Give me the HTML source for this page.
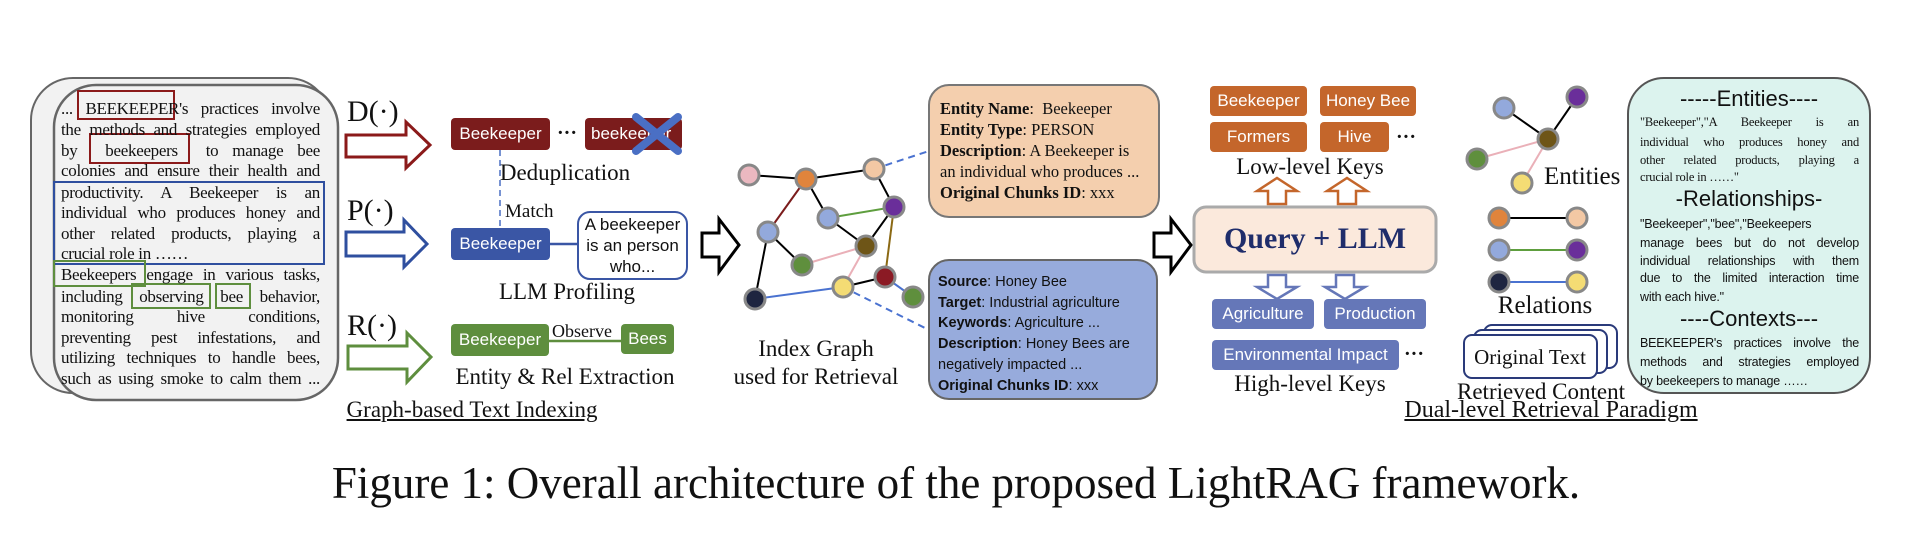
<!DOCTYPE html>
<html><head><meta charset="utf-8"><style>
body{margin:0;background:#fff;}
#c{position:relative;width:1920px;height:554px;overflow:hidden;background:#fff;font-family:"Liberation Serif",serif;color:#111;}
.a{position:absolute;white-space:nowrap;}
.dl{position:absolute;left:61px;width:259px;font-size:17px;line-height:21px;height:21px;text-align:justify;text-align-last:justify;white-space:nowrap;font-family:"Liberation Serif",serif;letter-spacing:-0.3px;}
.dl.l{text-align-last:left;}
.tl{position:absolute;left:1640px;width:219px;font-size:12.5px;line-height:18px;height:18px;text-align:justify;text-align-last:justify;white-space:nowrap;letter-spacing:-0.2px;}
.tl.l{text-align-last:left;}
.sans{font-family:"Liberation Sans",sans-serif;}
.box{position:absolute;color:#fff;font-family:"Liberation Sans",sans-serif;font-size:17px;display:flex;align-items:center;justify-content:center;border-radius:4px;}
.ctr{transform:translateX(-50%);}
</style></head><body><div id="c">
<svg width="1920" height="554" style="position:absolute;left:0;top:0">
<rect x="31" y="78" width="299" height="315" rx="42" fill="#f2f2f2" stroke="#666" stroke-width="2"/>
<rect x="54" y="85" width="284" height="315" rx="42" fill="#f2f2f2" stroke="#666" stroke-width="2.5"/>
<rect x="78" y="91" width="96" height="28" fill="none" stroke="#8b1a1a" stroke-width="2"/>
<rect x="90" y="134" width="99" height="29" fill="none" stroke="#8b1a1a" stroke-width="2"/>
<rect x="54" y="182" width="270" height="82" fill="none" stroke="#2f4f9f" stroke-width="2"/>
<rect x="54" y="261" width="91" height="25" fill="none" stroke="#5e8e3e" stroke-width="2"/>
<rect x="132" y="284" width="78" height="24" fill="none" stroke="#5e8e3e" stroke-width="2"/>
<rect x="216" y="284" width="34" height="24" fill="none" stroke="#5e8e3e" stroke-width="2"/>
<polygon points="346,135 406,135 406,122 430,145 406,168 406,157 346,157" fill="#fff" stroke="#8b1a1a" stroke-width="3"/>
<polygon points="346,232 404,232 404,220 427,244 404,267 404,256 346,256" fill="#fff" stroke="#2f4f9f" stroke-width="3"/>
<polygon points="348,346 407,346 407,333 431,357 407,382 407,369 348,369" fill="#fff" stroke="#5e8e3e" stroke-width="3"/>
<line x1="500" y1="150" x2="500" y2="228" stroke="#4a6fc4" stroke-width="1.5" stroke-dasharray="6,4"/>
<line x1="550" y1="244" x2="578" y2="244" stroke="#3a56a5" stroke-width="2.5"/>
<rect x="578" y="212" width="109" height="67" rx="12" fill="#fff" stroke="#3a56a5" stroke-width="2"/>
<line x1="549" y1="341" x2="621" y2="341" stroke="#5e8e3e" stroke-width="2.5"/>
<polygon points="702,233 719,233 719,219 739,245 719,272 719,257 702,257" fill="#fff" stroke="#000" stroke-width="3"/>
<polygon points="1154,233 1171,233 1171,219 1191,245 1171,272 1171,257 1154,257" fill="#fff" stroke="#000" stroke-width="3"/>
<g stroke-width="2">
<line x1="749" y1="175" x2="806" y2="179" stroke="#000"/>
<line x1="806" y1="179" x2="874" y2="169" stroke="#000"/>
<line x1="806" y1="179" x2="768" y2="232" stroke="#7b1c1c"/>
<line x1="806" y1="179" x2="828" y2="218" stroke="#000"/>
<line x1="874" y1="169" x2="894" y2="207" stroke="#000"/>
<line x1="828" y1="218" x2="894" y2="207" stroke="#5e9e3e"/>
<line x1="828" y1="218" x2="866" y2="246" stroke="#000"/>
<line x1="894" y1="207" x2="866" y2="246" stroke="#000"/>
<line x1="894" y1="207" x2="885" y2="277" stroke="#8b6914"/>
<line x1="768" y1="232" x2="802" y2="265" stroke="#000"/>
<line x1="768" y1="232" x2="755" y2="299" stroke="#000"/>
<line x1="802" y1="265" x2="866" y2="246" stroke="#eab0b8"/>
<line x1="866" y1="246" x2="843" y2="287" stroke="#eab0b8"/>
<line x1="843" y1="287" x2="885" y2="277" stroke="#000"/>
<line x1="755" y1="299" x2="843" y2="287" stroke="#4a72d0"/>
<line x1="885" y1="277" x2="913" y2="297" stroke="#4a72d0"/>
</g>
<line x1="874" y1="169" x2="929" y2="151" stroke="#4a72d0" stroke-width="2" stroke-dasharray="7,5"/>
<line x1="843" y1="287" x2="929" y2="330" stroke="#4a72d0" stroke-width="2" stroke-dasharray="7,5"/>
<g stroke="#888" stroke-width="3">
<circle cx="749" cy="175" r="10" fill="#ebb8c0"/>
<circle cx="806" cy="179" r="10" fill="#e0843c"/>
<circle cx="874" cy="169" r="10" fill="#f3c8a4"/>
<circle cx="894" cy="207" r="10" fill="#6a2e9a"/>
<circle cx="828" cy="218" r="10" fill="#93a9dc"/>
<circle cx="768" cy="232" r="10" fill="#93a9dc"/>
<circle cx="866" cy="246" r="10" fill="#6e5517"/>
<circle cx="802" cy="265" r="10" fill="#5f8f3d"/>
<circle cx="885" cy="277" r="10" fill="#8b1a24"/>
<circle cx="843" cy="287" r="10" fill="#f4dc74"/>
<circle cx="755" cy="299" r="10" fill="#1e2540"/>
<circle cx="913" cy="297" r="10" fill="#5f8f3d"/>
</g>
<rect x="929" y="85" width="230" height="132" rx="20" fill="#f4cfae" stroke="#777" stroke-width="2"/>
<rect x="929" y="260" width="228" height="139" rx="20" fill="#97abdc" stroke="#666" stroke-width="2"/>
<rect x="1194" y="207" width="242" height="65" rx="12" fill="#fbe9dc" stroke="#aaa" stroke-width="3"/>
<polygon points="1268,204 1286,204 1286,191 1297,191 1277,178 1257,191 1268,191" fill="#fff" stroke="#c4662b" stroke-width="2.5"/>
<polygon points="1338,204 1356,204 1356,191 1367,191 1347,178 1327,191 1338,191" fill="#fff" stroke="#c4662b" stroke-width="2.5"/>
<polygon points="1268,275 1286,275 1286,287 1297,287 1277,299 1257,287 1268,287" fill="#fff" stroke="#6577b8" stroke-width="2.5"/>
<polygon points="1336,275 1354,275 1354,287 1365,287 1345,299 1325,287 1336,287" fill="#fff" stroke="#6577b8" stroke-width="2.5"/>
<g stroke-width="2">
<line x1="1504" y1="108" x2="1548" y2="139" stroke="#000"/>
<line x1="1577" y1="97" x2="1548" y2="139" stroke="#000"/>
<line x1="1477" y1="159" x2="1548" y2="139" stroke="#eab0b8"/>
<line x1="1522" y1="183" x2="1548" y2="139" stroke="#eab0b8"/>
<line x1="1499" y1="218" x2="1577" y2="218" stroke="#000"/>
<line x1="1499" y1="250" x2="1577" y2="250" stroke="#5e9e3e"/>
<line x1="1499" y1="282" x2="1577" y2="282" stroke="#4a72d0"/>
</g>
<g stroke="#888" stroke-width="3">
<circle cx="1504" cy="108" r="10" fill="#93a9dc"/>
<circle cx="1577" cy="97" r="10" fill="#6a2e9a"/>
<circle cx="1548" cy="139" r="10" fill="#6e5517"/>
<circle cx="1477" cy="159" r="10" fill="#5f8f3d"/>
<circle cx="1522" cy="183" r="10" fill="#f4dc74"/>
<circle cx="1499" cy="218" r="10" fill="#e0843c"/>
<circle cx="1577" cy="218" r="10" fill="#f3c8a4"/>
<circle cx="1499" cy="250" r="10" fill="#93a9dc"/>
<circle cx="1577" cy="250" r="10" fill="#6a2e9a"/>
<circle cx="1499" cy="282" r="10" fill="#1e2540"/>
<circle cx="1577" cy="282" r="10" fill="#f4dc74"/>
</g>
<rect x="1484" y="325" width="133" height="43" rx="8" fill="#fff" stroke="#2a3a7a" stroke-width="2"/>
<rect x="1474" y="330" width="133" height="43" rx="8" fill="#fff" stroke="#2a3a7a" stroke-width="2"/>
<rect x="1464" y="335" width="133" height="43" rx="8" fill="#fff" stroke="#2a3a7a" stroke-width="2"/>
<rect x="1628" y="78" width="242" height="315" rx="36" fill="#dcf3ee" stroke="#555" stroke-width="2"/>
</svg>

<div class="dl" style="top:98px">... BEEKEEPER's practices involve</div>
<div class="dl" style="top:119px">the methods and strategies employed</div>
<div class="dl" style="top:140px">by &nbsp;beekeepers&nbsp; to manage bee</div>
<div class="dl" style="top:160px">colonies and ensure their health and</div>
<div class="dl" style="top:182px">productivity. A Beekeeper is an</div>
<div class="dl" style="top:202px">individual who produces honey and</div>
<div class="dl" style="top:223px">other related products, playing a</div>
<div class="dl l" style="top:243px">crucial role in ……</div>
<div class="dl" style="top:264px">Beekeepers engage in various tasks,</div>
<div class="dl" style="top:286px">including observing bee behavior,</div>
<div class="dl" style="top:306px">monitoring hive conditions,</div>
<div class="dl" style="top:327px">preventing pest infestations, and</div>
<div class="dl" style="top:347px">utilizing techniques to handle bees,</div>
<div class="dl" style="top:368px">such as using smoke to calm them ...</div>

<div class="a" style="left:347px;top:95px;font-size:30px">D(·)</div>
<div class="a" style="left:347px;top:194px;font-size:30px">P(·)</div>
<div class="a" style="left:347px;top:309px;font-size:30px">R(·)</div>

<div class="box" style="left:451px;top:118px;width:99px;height:32px;background:#7b1c1c">Beekeeper</div>
<div class="a" style="left:557px;top:122px;font-size:20px;font-weight:bold">···</div>
<div class="box" style="left:585px;top:118px;width:97px;height:32px;background:#7b1c1c;justify-content:flex-start;padding-left:6px;box-sizing:border-box">beekeeper</div>
<svg width="1920" height="554" style="position:absolute;left:0;top:0"><g stroke="#4a6fc4" stroke-width="8" stroke-linecap="round"><line x1="636" y1="117" x2="678" y2="151"/><line x1="678" y1="117" x2="636" y2="151"/></g></svg>
<div class="a ctr" style="left:565px;top:160px;font-size:23px">Deduplication</div>
<div class="a" style="left:505px;top:201px;font-size:19px">Match</div>
<div class="box" style="left:451px;top:228px;width:99px;height:32px;background:#3a56a5">Beekeeper</div>
<div class="a sans" style="left:578px;top:214px;width:109px;text-align:center;font-size:17px;line-height:21px;white-space:normal">A beekeeper<br>is an person<br>who...</div>
<div class="a ctr" style="left:567px;top:279px;font-size:23px">LLM Profiling</div>
<div class="box" style="left:451px;top:324px;width:98px;height:32px;background:#5e8e3e">Beekeeper</div>
<div class="a" style="left:552px;top:321px;font-size:18px">Observe</div>
<div class="box" style="left:621px;top:324px;width:53px;height:30px;background:#5e8e3e">Bees</div>
<div class="a ctr" style="left:565px;top:364px;font-size:23px">Entity &amp; Rel Extraction</div>
<div class="a ctr" style="left:472px;top:397px;font-size:23px;text-decoration:underline">Graph-based Text Indexing</div>

<div class="a ctr" style="left:816px;top:336px;font-size:23px">Index Graph</div>
<div class="a ctr" style="left:816px;top:364px;font-size:23px">used for Retrieval</div>

<div class="a" style="left:940px;top:98px;font-size:16.5px;line-height:21px">
<b>Entity Name</b>:&nbsp; Beekeeper<br><b>Entity Type</b>: PERSON<br><b>Description</b>: A Beekeeper is<br>an individual who produces ...<br><b>Original Chunks ID</b>: xxx</div>
<div class="a sans" style="left:938px;top:272px;font-size:14.5px;line-height:20.7px">
<b>Source</b>: Honey Bee<br><b>Target</b>: Industrial agriculture<br><b>Keywords</b>: Agriculture ...<br><b>Description</b>: Honey Bees are<br>negatively impacted ...<br><b>Original Chunks ID</b>: xxx</div>

<div class="box" style="left:1210px;top:86px;width:97px;height:30px;background:#c4662b">Beekeeper</div>
<div class="box" style="left:1320px;top:86px;width:96px;height:30px;background:#c4662b">Honey Bee</div>
<div class="box" style="left:1210px;top:122px;width:97px;height:30px;background:#c4662b">Formers</div>
<div class="box" style="left:1320px;top:122px;width:69px;height:30px;background:#c4662b">Hive</div>
<div class="a" style="left:1396px;top:126px;font-size:20px;font-weight:bold">···</div>
<div class="a ctr" style="left:1310px;top:154px;font-size:23px">Low-level Keys</div>
<div class="a ctr" style="left:1315px;top:222px;font-size:30px;font-weight:bold;color:#1f2d6b">Query + LLM</div>
<div class="box" style="left:1212px;top:299px;width:102px;height:30px;background:#6577b8">Agriculture</div>
<div class="box" style="left:1324px;top:299px;width:102px;height:30px;background:#6577b8">Production</div>
<div class="box" style="left:1212px;top:340px;width:187px;height:30px;background:#6577b8">Environmental Impact</div>
<div class="a" style="left:1404px;top:343px;font-size:20px;font-weight:bold">···</div>
<div class="a ctr" style="left:1310px;top:371px;font-size:23px">High-level Keys</div>

<div class="a" style="left:1544px;top:163px;font-size:25px">Entities</div>
<div class="a ctr" style="left:1545px;top:292px;font-size:25px">Relations</div>
<div class="a ctr" style="left:1530px;top:345px;font-size:21px">Original Text</div>
<div class="a ctr" style="left:1541px;top:379px;font-size:23px">Retrieved Content</div>
<div class="a ctr" style="left:1551px;top:397px;font-size:24px;text-decoration:underline">Dual-level Retrieval Paradigm</div>

<div class="a sans ctr" style="left:1749px;top:86px;font-size:22px">-----Entities----</div>
<div class="tl" style="top:113px">"Beekeeper","A Beekeeper is an</div>
<div class="tl" style="top:133px">individual who produces honey and</div>
<div class="tl" style="top:151px">other related products, playing a</div>
<div class="tl l" style="top:168px">crucial role in ……"</div>
<div class="a sans ctr" style="left:1749px;top:186px;font-size:22px">-Relationships-</div>
<div class="tl sans l" style="top:215px">"Beekeeper","bee","Beekeepers</div>
<div class="tl sans" style="top:234px">manage bees but do not develop</div>
<div class="tl sans" style="top:252px">individual relationships with them</div>
<div class="tl sans" style="top:269px">due to the limited interaction time</div>
<div class="tl sans l" style="top:288px">with each hive."</div>
<div class="a sans ctr" style="left:1749px;top:306px;font-size:22px">----Contexts---</div>
<div class="tl sans" style="top:334px">BEEKEEPER's practices involve the</div>
<div class="tl sans" style="top:353px">methods and strategies employed</div>
<div class="tl sans l" style="top:372px">by beekeepers to manage ……</div>

<div class="a ctr" style="left:956px;top:457px;font-size:45px">Figure 1: Overall architecture of the proposed LightRAG framework.</div>
</div></body></html>
